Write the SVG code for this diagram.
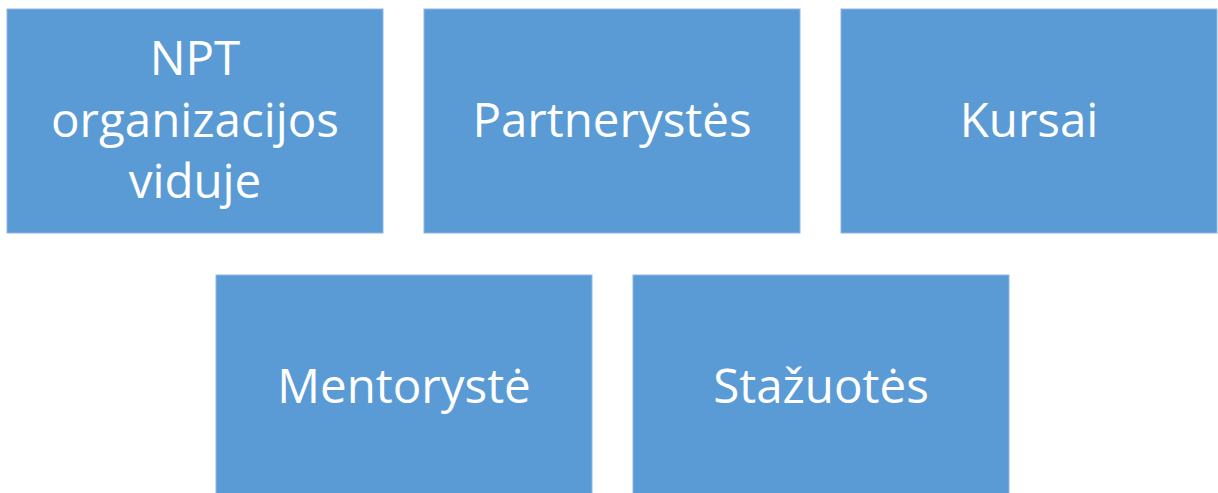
<svg xmlns="http://www.w3.org/2000/svg" width="1218" height="493" viewBox="0 0 1218 493">
<style>
.box{fill:#5B9BD5;stroke:#8DB8E3;stroke-width:1}
.lbl{font-family:"Open Sans","Liberation Sans",sans-serif;font-size:47.5px;fill:#FFFFFF;text-anchor:middle}
</style>
<rect width="1218" height="493" fill="#FFFFFF"/>
<g id="connectors"></g>
<g id="node-npt">
<rect class="box" x="7" y="9" width="376" height="224"/>
<text class="lbl" x="195" y="75">NPT</text>
<text class="lbl" x="195" y="137">organizacijos</text>
<text class="lbl" x="195" y="198">viduje</text>
</g>
<g id="node-partnerystes">
<rect class="box" x="424" y="9" width="376" height="224"/>
<text class="lbl" x="612" y="137">Partnerystės</text>
</g>
<g id="node-kursai">
<rect class="box" x="841" y="9" width="376" height="224"/>
<text class="lbl" x="1029" y="137">Kursai</text>
</g>
<g id="node-mentoryste">
<rect class="box" x="216" y="275" width="376" height="224"/>
<text class="lbl" x="404" y="403">Mentorystė</text>
</g>
<g id="node-stazuotes">
<rect class="box" x="633" y="275" width="376" height="224"/>
<text class="lbl" x="821" y="403">Stažuotės</text>
</g>
</svg>
